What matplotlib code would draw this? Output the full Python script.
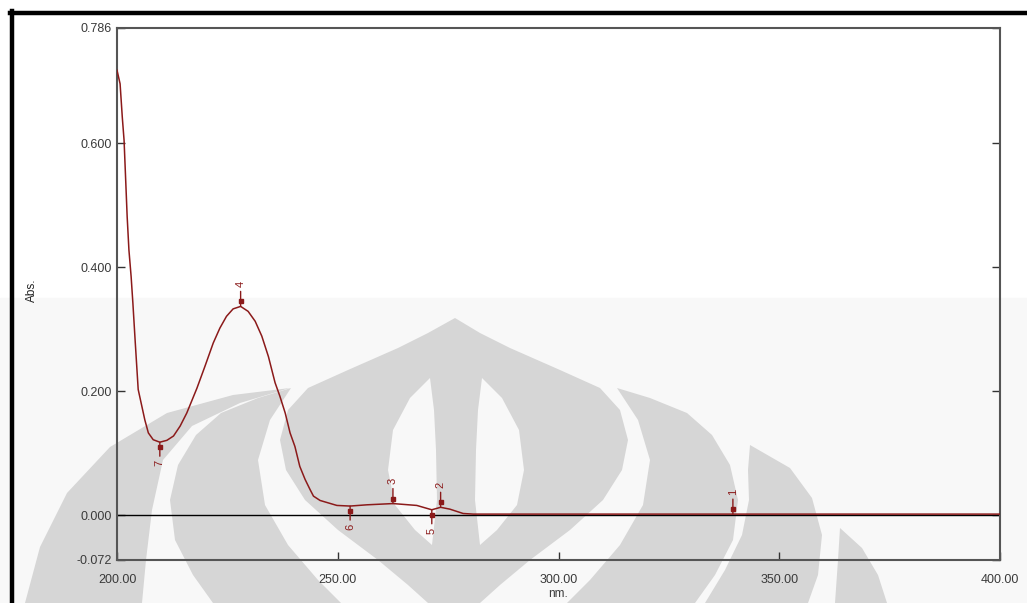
import numpy as np
import matplotlib.pyplot as plt
from matplotlib.patches import Polygon, Rectangle
from matplotlib.lines import Line2D
import matplotlib.transforms as mtransforms

plt.rcParams['font.family'] = ['Liberation Sans', 'DejaVu Sans']

# spectrum (nm, Abs.)
wavelength = [200.0, 200.7, 201.2, 201.6, 202.0, 202.3, 202.7, 203.2, 203.6, 204.1,
              204.8, 206.3, 207.1, 208.2, 209.7, 211.3, 212.8, 214.3, 215.8, 218.1,
              219.9, 221.8, 223.3, 224.8, 226.3, 228.0, 229.7, 231.3, 232.8, 234.3,
              235.8, 236.9, 238.1, 239.2, 240.3, 241.4, 242.6, 243.7, 244.5, 246.0,
              249.8, 252.8, 256.6, 262.5, 267.9, 271.3, 273.3, 275.4, 278.4, 280.7,
              300.0, 340.0, 380.0, 400.0]
absorbance = [0.718, 0.696, 0.642, 0.605, 0.535, 0.482, 0.428, 0.385, 0.342, 0.283,
              0.203, 0.154, 0.133, 0.122, 0.118, 0.121, 0.128, 0.144, 0.165, 0.205,
              0.240, 0.278, 0.302, 0.321, 0.333, 0.337, 0.329, 0.313, 0.289, 0.256,
              0.214, 0.192, 0.165, 0.133, 0.111, 0.079, 0.058, 0.042, 0.031, 0.024,
              0.016, 0.015, 0.017, 0.019, 0.016, 0.009, 0.013, 0.010, 0.003, 0.002,
              0.002, 0.002, 0.002, 0.002]

# picked peaks (labels above) and valleys (labels below)
peak_labels = ['4', '3', '2', '1']
peak_nm = [228.0, 262.5, 273.3, 339.5]
peak_abs = [0.337, 0.019, 0.013, 0.002]
valley_labels = ['7', '6', '5']
valley_nm = [209.7, 252.8, 271.3]
valley_abs = [0.118, 0.015, 0.009]

yticks = [-0.072, 0.0, 0.2, 0.4, 0.6, 0.786]
xticks = [200, 250, 300, 350, 400]

W, H = 1027, 603
fig = plt.figure(figsize=(W / 100, H / 100), dpi=100)
ax = fig.add_axes([117 / W, 1 - 560 / H, 883 / W, 532 / H])
ax.patch.set_alpha(0)

def px(pts):
    return [(x / W, 1 - y / H) for x, y in pts]

def mirror(pts, c=908):
    return [(c - x, y) for x, y in pts]

def blob(pts, color, z):
    fig.add_artist(Polygon(px(pts), closed=True, transform=fig.transFigure,
                           color=color, lw=0, zorder=z))

# faint background + watermark logo
bg = '#f8f8f8'
grey = '#d6d6d6'
fig.add_artist(Rectangle((0, 0), 1, 1 - 298 / H, transform=fig.transFigure,
                         color=bg, zorder=-3))
dome_r = [(455, 318), (480, 333), (510, 348), (560, 370), (600, 388), (620, 410),
          (628, 440), (622, 470), (603, 500), (570, 530), (530, 560), (500, 585), (480, 603)]
blob(mirror(dome_r[::-1])[:-1] + dome_r, grey, -2)
petal_b = [(617, 388), (650, 398), (687, 413), (712, 435), (730, 465), (738, 500),
           (733, 540), (715, 575), (695, 603), (567, 603), (590, 580), (620, 545),
           (643, 505), (650, 460), (638, 420)]
petal_c = [(750, 445), (790, 468), (812, 498), (822, 535), (818, 575), (808, 603),
           (705, 603), (725, 570), (742, 535), (749, 500), (748, 470)]
petal_d = [(840, 528), (862, 548), (878, 575), (887, 603), (835, 603), (838, 560)]
for p in (petal_b, petal_c, petal_d):
    blob(p, grey, -2)
blob(mirror(petal_b), grey, -2)
# on the left the outer petals run together into one band
outer_l = [(25, 603), (40, 547), (67, 493), (110, 447), (167, 413), (233, 395),
           (290, 388), (240, 403), (192, 426), (163, 460), (152, 510), (146, 560), (142, 603)]
blob(outer_l, grey, -2)
bulb = [(430, 378), (410, 398), (393, 430), (388, 470), (395, 505), (415, 530),
        (432, 545), (437, 500), (436, 450), (434, 410)]
blob(bulb, bg, -1)
blob(mirror(bulb, 912), bg, -1)

# outer black frame
fig.add_artist(Line2D([10 / W, 1], [1 - 12.5 / H] * 2, transform=fig.transFigure,
                      color='black', lw=3.2))
fig.add_artist(Line2D([11.5 / W] * 2, [0, 1 - 11 / H], transform=fig.transFigure,
                      color='black', lw=3.2))

red = '#8b1a1a'
ax.axhline(0, color='black', lw=1.0, zorder=2)
ax.plot(wavelength, absorbance, color=red, lw=1.1, zorder=3)

def offset(dy):
    return mtransforms.offset_copy(ax.transData, fig=fig, x=0, y=dy, units='dots')

for lab, x, y in zip(peak_labels, peak_nm, peak_abs):
    ax.annotate('', xy=(x, y), xytext=(0, 15), textcoords='offset pixels',
                arrowprops=dict(arrowstyle='-', color=red, lw=1, shrinkA=0, shrinkB=0))
    ax.plot([x], [y], marker='s', ms=3.2, color=red, transform=offset(5), zorder=4)
    ax.annotate(lab, xy=(x, y), xytext=(0, 22.5), textcoords='offset pixels',
                ha='center', va='center', rotation=90, color=red, fontsize=8)

for lab, x, y in zip(valley_labels, valley_nm, valley_abs):
    ax.annotate('', xy=(x, y), xytext=(0, -14), textcoords='offset pixels',
                arrowprops=dict(arrowstyle='-', color=red, lw=1, shrinkA=0, shrinkB=0))
    ax.plot([x], [y], marker='s', ms=3.2, color=red, transform=offset(-5), zorder=4)
    ax.annotate(lab, xy=(x, y), xytext=(0, -21), textcoords='offset pixels',
                ha='center', va='center', rotation=90, color=red, fontsize=8)

ax.set_xlim(200, 400)
ax.set_ylim(-0.072, 0.786)
ax.set_xticks(xticks)
ax.set_xticklabels(['%.2f' % v for v in xticks])
ax.set_yticks(yticks)
ax.set_yticklabels(['%.3f' % v for v in yticks])
ax.tick_params(direction='in', length=6, width=1, color='#333333',
               labelsize=9, labelcolor='#3a3a3a', right=True)
ax.tick_params(axis='x', pad=10)
ax.tick_params(axis='y', pad=4)
for sp in ax.spines.values():
    sp.set_color('#555555')
    sp.set_linewidth(1.5)

fig.text(558 / W, 1 - 594 / H, 'nm.', ha='center', va='center', fontsize=8.5, color='#3a3a3a')
fig.text(32 / W, 1 - 290 / H, 'Abs.', ha='center', va='center', rotation=90,
         fontsize=8.5, color='#222222')

fig.savefig('out.png', dpi=100)
